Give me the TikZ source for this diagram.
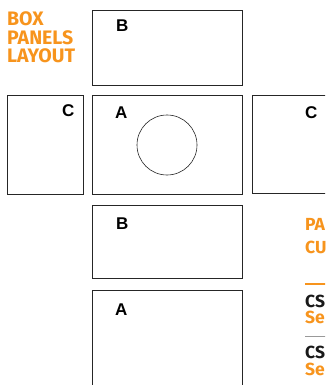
\documentclass[tikz,border=0pt]{standalone}
\usepackage{fontspec}
\setsansfont{Fira Sans}
\newfontfamily\labfont{Liberation Sans}
\usetikzlibrary{positioning}
\definecolor{panelorange}{RGB}{247,148,29}

\begin{document}
\begin{tikzpicture}[x=1pt,y=-1pt]
  \tikzset{
    panel/.style={draw=black!85,line width=0.9pt,inner sep=0pt,anchor=north west},
    plab/.style={font=\labfont\fontsize{17}{17}\selectfont\bfseries,inner sep=0pt,anchor=base west},
    head/.style={font=\sffamily\fontsize{19.5}{18.5}\selectfont\bfseries,text=panelorange,inner sep=0pt,anchor=base west,align=left},
    side/.style={font=\sffamily\fontsize{17.5}{17}\selectfont\bfseries,inner sep=0pt,anchor=base west},
  }
  \useasboundingbox (0,0) rectangle (325,385);
  \clip (0,0) rectangle (325,385);

  % title (anchored at the last line)
  \node[head] (title) at (7,63) {BOX\\PANELS\\LAYOUT};

  % panels
  \node[panel,minimum width=150pt,minimum height=75pt] (topb) at (92,10) {};
  \node[panel,minimum width=76pt,minimum height=99pt] (leftc) at (7,95) {};
  \node[panel,minimum width=150pt,minimum height=99pt] (mida) at (92,95) {};
  \node[panel,minimum width=100pt,minimum height=98pt] (rightc) at (252,95) {};
  \node[panel,minimum width=150pt,minimum height=73pt] (lowb) at (92,205) {};
  \node[panel,minimum width=150pt,minimum height=120pt] (lowa) at (92,290) {};
  \node[circle,draw=black!85,line width=0.6pt,minimum size=60pt,inner sep=0pt] (hole) at (167,145) {};

  \node[plab] (labtopb) at (116,32) {B};
  \node[plab] (lableftc) at (62,117) {C};
  \node[plab] (labmida) at (115,118) {A};
  \node[plab] (labrightc) at (305,118) {C};
  \node[plab] (lablowb) at (116,229) {B};
  \node[plab] (lablowa) at (115,315) {A};

  % right column
  \node[side,text=panelorange] (pa) at (305,230) {PA};
  \node[side,text=panelorange] (cu) at (305,253) {CU};
  \coordinate (rulea) at (305,284); \coordinate (ruleb) at (330,284);
  \draw[panelorange,line width=1.4pt] (rulea) -- (ruleb);
  \node[side,text=black!90] (csa) at (305,307) {CS};
  \node[side,text=panelorange] (sea) at (305,323) {Se};
  \coordinate (rulec) at (305,336); \coordinate (ruled) at (330,336);
  \draw[black!40,line width=0.8pt] (rulec) -- (ruled);
  \node[side,text=black!90] (csb) at (305,358) {CS};
  \node[side,text=panelorange] (seb) at (305,375) {Se};
\end{tikzpicture}
\end{document}
